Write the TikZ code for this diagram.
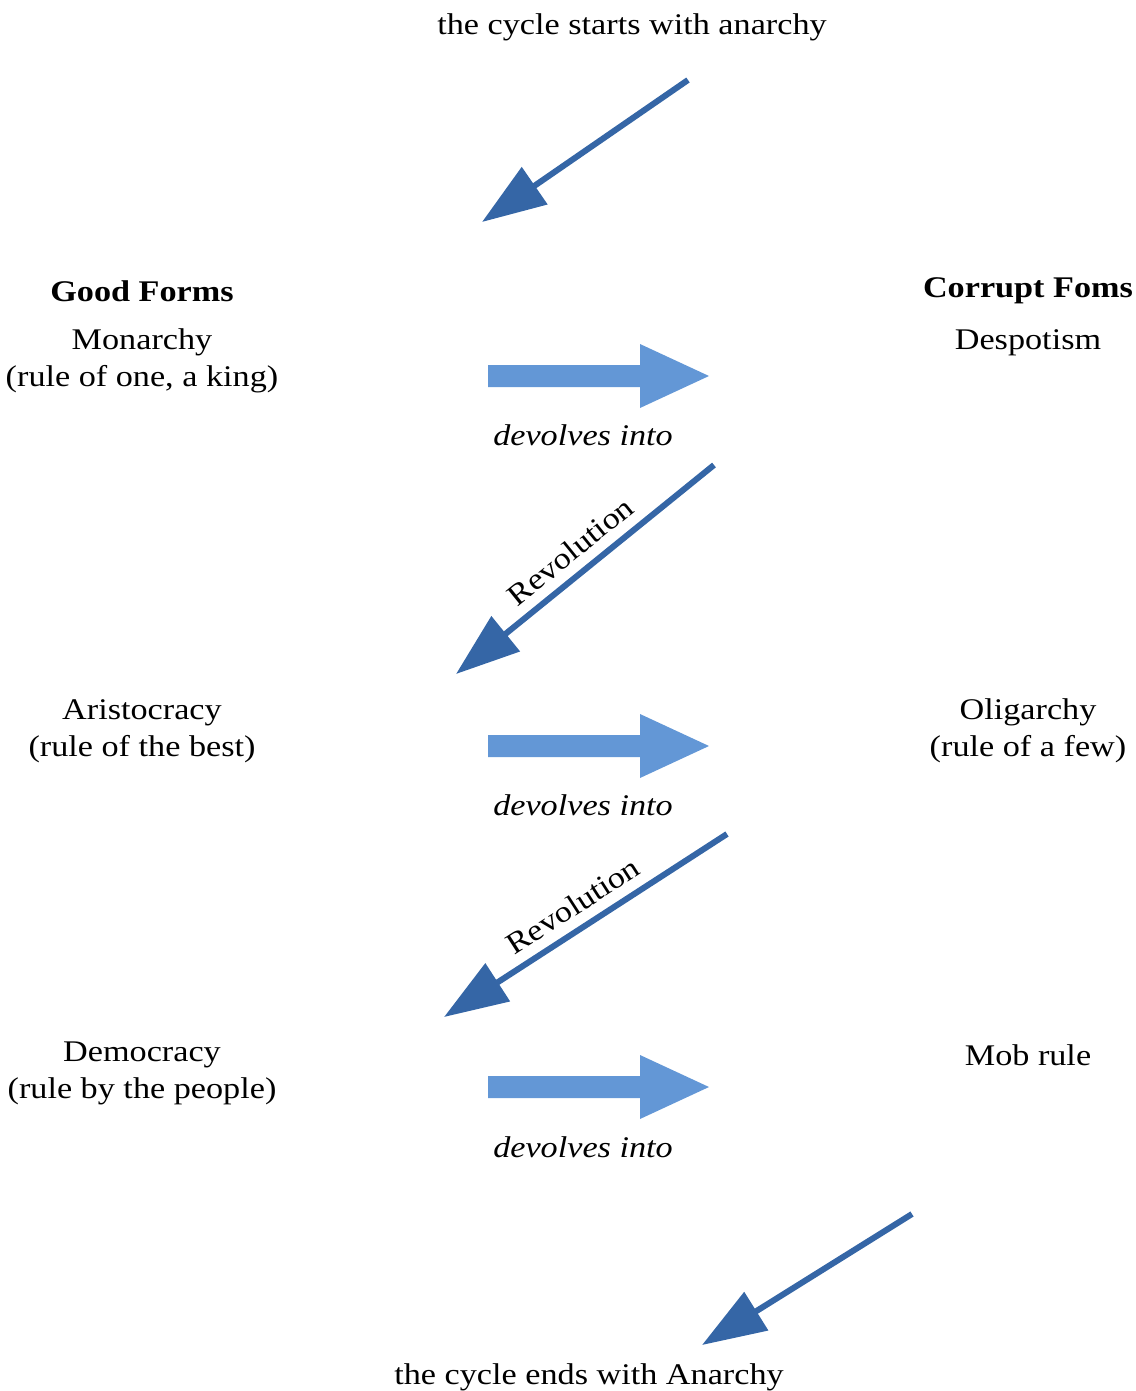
\documentclass[tikz,border=0pt]{standalone}
\usepackage{fontspec}
\setmainfont{Liberation Serif}[FakeStretch=1.14]
\usetikzlibrary{arrows.meta}
\definecolor{darkblue}{HTML}{3566A6}
\definecolor{lightblue}{HTML}{6397D6}
\tikzset{
  txt/.style={font=\fontsize{30}{37}\selectfont, inner sep=0pt, align=center, anchor=center},
  boldtxt/.style={txt, font=\fontsize{30}{37}\selectfont\bfseries},
  ittxt/.style={txt, font=\fontsize{30}{37}\selectfont\itshape},
  cyclearrow/.style={draw=darkblue, line width=6pt, -{Triangle[length=64pt,width=44pt]}},
  revlabel/.style={txt, sloped, above=10pt, pos=0.5},
  blockarrow/.style={fill=lightblue, draw=none},
}
\begin{document}
\begin{tikzpicture}[x=1pt,y=-1pt]
\useasboundingbox (0,0) rectangle (1135,1391);
% texts
\node[txt] (start) at (632,27) {the cycle starts with anarchy};
\node[boldtxt] (good) at (142,291) {Good Forms};
\node[boldtxt] (corrupt) at (1028,291) {Corrupt Foms};
\node[txt] (monarchy) at (142,361) {Monarchy\\(rule of one, a king)};
\node[txt] (despot) at (1028,343) {Despotism};
\node[txt] (aristo) at (142,731) {Aristocracy\\(rule of the best)};
\node[txt] (oligar) at (1028,731) {Oligarchy\\(rule of a few)};
\node[txt] (demo) at (142,1073) {Democracy\\(rule by the people)};
\node[txt] (mob) at (1028,1055) {Mob rule};
\node[txt] (end) at (589,1377) {the cycle ends with Anarchy};
\node[ittxt] (dev1) at (583,435) {devolves into};
\node[ittxt] (dev2) at (583,805) {devolves into};
\node[ittxt] (dev3) at (583,1147) {devolves into};
% block arrows
\foreach \y/\n in {376/ba1, 746/ba2, 1087/ba3}{
  \fill[blockarrow] (488,\y-11) -- (640,\y-11) -- (640,\y-32) -- (709,\y) -- (640,\y+32) -- (640,\y+11) -- (488,\y+11) -- cycle;
}
% cycle arrows
\coordinate (a1s) at (688,80);
\coordinate (a1e) at (482,222);
\coordinate (a2s) at (714,465);
\coordinate (a2e) at (456,674);
\coordinate (a3s) at (727,834);
\coordinate (a3e) at (444,1017);
\coordinate (a4s) at (912,1214);
\coordinate (a4e) at (702,1345);
\draw[cyclearrow] (a1s) -- (a1e);
\draw[cyclearrow] (a2s) -- node[revlabel] (rev1) {Revolution} (a2e);
\draw[cyclearrow] (a3s) -- node[revlabel] (rev2) {Revolution} (a3e);
\draw[cyclearrow] (a4s) -- (a4e);
\end{tikzpicture}
\end{document}
